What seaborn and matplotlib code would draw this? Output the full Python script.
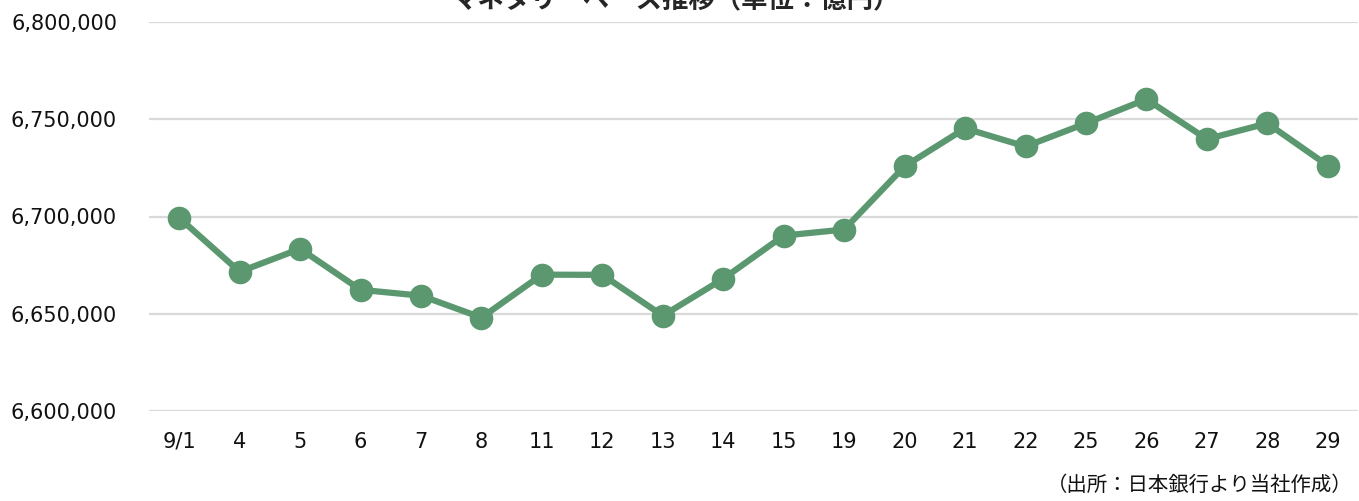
import matplotlib
matplotlib.use("Agg")
import matplotlib.pyplot as plt
import seaborn as sns
import pandas as pd
from matplotlib.ticker import FuncFormatter

# 日付ラベル（9月の営業日）
dates = ["9/1", "4", "5", "6", "7", "8", "11", "12", "13", "14",
         "15", "19", "20", "21", "22", "25", "26", "27", "28", "29"]
# マネタリーベース（億円）
values = [6699300, 6671600, 6683400, 6662300, 6659300, 6648000, 6670100, 6670000,
          6649000, 6668000, 6690200, 6693300, 6725800, 6745300, 6736000, 6747900,
          6760300, 6739800, 6747900, 6726200]
yticks = [6600000, 6650000, 6700000, 6750000, 6800000]

title = "マネタリーベース推移（単位：億円）"
source = "（出所：日本銀行より当社作成）"

df = pd.DataFrame({"date": dates, "value": values, "pos": range(len(dates))})

sns.set_style("white")
plt.rcParams["font.family"] = ["DejaVu Sans", "Noto Sans CJK JP"]

fig = plt.figure(figsize=(13.59, 5.01), dpi=100)
ax = fig.add_axes([149 / 1359, 90 / 501, 1209 / 1359, 389 / 501])

color = "#5B9870"
sns.lineplot(data=df, x="pos", y="value", ax=ax, color=color, linewidth=4.5,
             marker="o", markersize=17, markeredgewidth=0, zorder=3)

ax.set_xlim(-0.5, len(dates) - 0.5)
ax.set_ylim(yticks[0], yticks[-1])
ax.set_xticks(range(len(dates)))
ax.set_xticklabels(dates)
ax.set_yticks(yticks)
ax.yaxis.set_major_formatter(FuncFormatter(lambda v, p: f"{int(v):,}"))
ax.grid(axis="y", color="#d9d9d9", linewidth=1.6)
ax.grid(axis="x", visible=False)
for s in ax.spines.values():
    s.set_visible(False)
ax.tick_params(axis="y", length=0, pad=23, labelsize=15, labelcolor="#111111")
ax.tick_params(axis="x", length=0, pad=15, labelsize=15, labelcolor="#111111")
ax.set_xlabel("")
ax.set_ylabel("")

# タイトルは元画像でも上端で切れている
fig.text(0.497, 1 - 8 / 501, title, ha="center", va="baseline", fontsize=19,
         fontweight="bold", family=["Noto Sans CJK JP", "DejaVu Sans"])
fig.text(1352 / 1359, 16 / 501, source, ha="right", va="center",
         fontsize=14.7, family=["Noto Sans CJK JP", "DejaVu Sans"], color="#111111")

fig.savefig("out.png", dpi=100)
